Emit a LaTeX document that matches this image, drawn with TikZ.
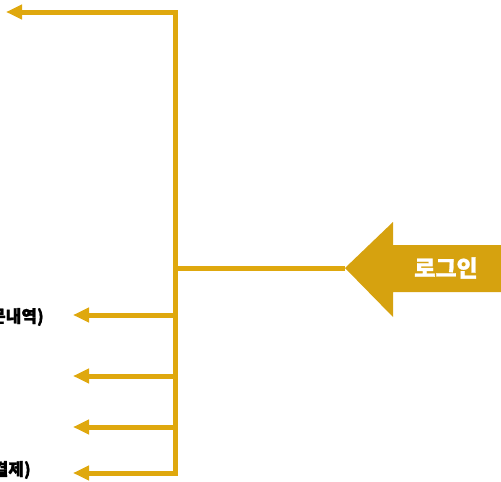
\documentclass[tikz,border=0pt]{standalone}
\usepackage{fontspec}
\setmainfont{Noto Sans CJK KR}
\newfontfamily\heavyfont{Noto Sans CJK KR}[BoldFeatures={FakeBold=1.2}]
\usetikzlibrary{arrows.meta, calc}

\definecolor{linegold}{HTML}{DFA80E}
\definecolor{arrowgold}{HTML}{D6A20F}

\begin{document}
\begin{tikzpicture}[%
    x=1pt, y=-1pt,              % pixel-like units, y grows downwards
    >={Triangle[length=16pt, width=14pt]},
    ]

\tikzset{
  feed/.style={draw=linegold, line width=5pt, line join=miter},
  menu/.style={anchor=east, inner sep=0pt, font=\heavyfont\fontsize{17}{19}\selectfont\bfseries},
  login/.style={text=white, inner sep=0pt, font=\heavyfont\fontsize{23}{25}\selectfont\bfseries}
  };

\useasboundingbox (0,0) rectangle (501,482);
\clip (0,0) rectangle (501,482);

% HUB line
\coordinate (hubTop) at (175,12);
\coordinate (hubIn) at (175,268);
\coordinate (hubBot) at (175,473);

\coordinate (out0) at (6,12);
\coordinate (out1) at (73,315);
\coordinate (out2) at (73,376);
\coordinate (out3) at (73,427);
\coordinate (out4) at (73,473);

% LOGIN arrow
\coordinate (tip) at (345,268);
\fill[arrowgold] (tip) -- (393,222) -- (393,245) -- (510,245) -- (510,292)
  -- (393,292) -- (393,317) -- cycle;
\node[login] (loginText) at (446,268) {로그인};

% Labels
\node[menu] (orders) at (44,317) {(주문내역)};
\node[menu] (payment) at (31,470) {(카드결제)};

\draw[feed, <->] (out0) -- (hubTop) -- (hubBot) -- (out4);
\draw[feed] (tip) -- (hubIn);
\draw[feed, ->] (hubBot |- out1) -- (out1);
\draw[feed, ->] (hubBot |- out2) -- (out2);
\draw[feed, ->] (hubBot |- out3) -- (out3);

\end{tikzpicture}
\end{document}
